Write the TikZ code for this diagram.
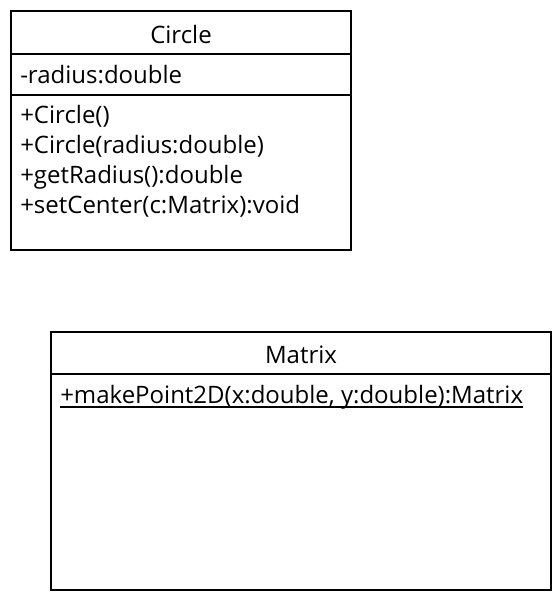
\documentclass[tikz,border=0pt]{standalone}
\usepackage{fontspec}
\setmainfont{Open Sans}

\begin{document}
\begin{tikzpicture}[x=0.75pt,y=-0.75pt,
    classbox/.style ={draw, line width=1.5pt},
    title/.style ={anchor=base, inner sep=0pt, font=\fontsize{18pt}{22pt}\selectfont},
    member/.style ={anchor=base west, inner sep=0pt, font=\fontsize{18pt}{22pt}\selectfont}]
   \useasboundingbox (0,0) rectangle (560,600);
   % class Circle
   \draw[classbox] (11,11) rectangle (351,250);
   \draw[classbox] (11,54) -- (351,54);
   \draw[classbox] (11,95) -- (351,95);
   \node[title] (circleName) at (181,43) {Circle};
   \node[member] (radiusAttr) at (20,83) {-radius:double};
   \node[member] (ctorA) at (20,123) {+Circle()};
   \node[member] (ctorB) at (20,153) {+Circle(radius:double)};
   \node[member] (getRadius) at (20,183) {+getRadius():double};
   \node[member] (setCenter) at (20,213) {+setCenter(c:Matrix):void};
   % class Matrix
   \draw[classbox] (51,332) rectangle (551,590);
   \draw[classbox] (51,374) -- (551,374);
   \node[title] (matrixName) at (301,363) {Matrix};
   \node[member] (makePoint) at (60,403) {+makePoint2D(x:double, y:double):Matrix};
   \draw[line width=0.9pt] ([yshift=-3pt]makePoint.base west) -- ([yshift=-3pt]makePoint.base east);
 \end{tikzpicture}
\end{document}
